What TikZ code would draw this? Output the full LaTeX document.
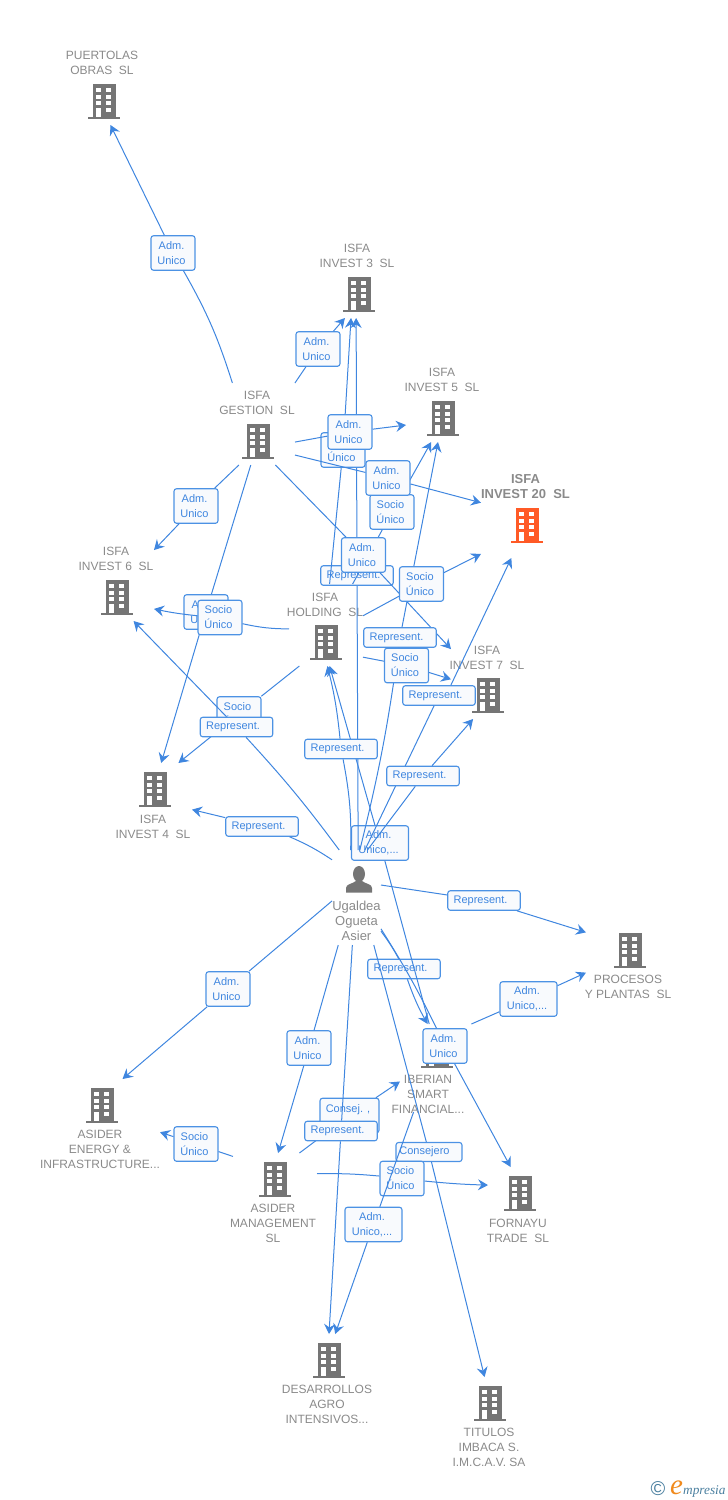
\documentclass[tikz,border=0pt]{standalone}
\usepackage{fontspec}
\setmainfont{Liberation Sans}
\newfontfamily\logofont{Liberation Serif}
\usetikzlibrary{arrows.meta}
\definecolor{linkblue}{HTML}{3F86DF}
\definecolor{edgeblue}{HTML}{4C92E4}
\definecolor{boxfill}{HTML}{F8FAFD}
\definecolor{bldggray}{HTML}{757575}
\definecolor{bldgorange}{HTML}{FF5A26}
\definecolor{namegray}{HTML}{8A8A8A}
\definecolor{logoblue}{HTML}{4A7F9F}
\definecolor{logoorange}{HTML}{F08A1D}
\tikzset{
  bldg/.style 2 args={shape=rectangle, inner sep=0pt, outer sep=0pt, minimum width=74pt,
    path picture={
      \begin{scope}[shift={(path picture bounding box.center)}]
        \fill[#2] (-11.5,#1-17) rectangle (11.5,#1+15.5);
        \fill[#2] (-16,#1+15.5) rectangle (16,#1+17.5);
        \foreach \wy in {-13,-6.5,0} {
          \fill[white] (-8,#1+\wy) rectangle (-3.5,#1+\wy+4);
          \fill[white] (2,#1+\wy) rectangle (7,#1+\wy+4);
        }
        \fill[white] (-8,#1+6.5) rectangle (-3.5,#1+15.5);
        \fill[white] (2,#1+6.5) rectangle (7,#1+11);
      \end{scope}
    }},
  topbldg/.style={bldg={17}{bldggray}, minimum height=82pt},
  botbldg/.style={bldg={-18}{bldggray}, minimum height=88pt},
  hotbldg/.style={bldg={12.5}{bldgorange}, minimum width=92pt, minimum height=91pt},
  persona/.style={shape=rectangle, inner sep=0pt, outer sep=0pt, minimum width=49pt, minimum height=95pt,
    path picture={
      \begin{scope}[shift={(path picture bounding box.center)}]
        \fill[bldggray] (2.5,-23.5) ellipse (6 and 8);
        \fill[bldggray] (-10.5,-5) -- (-10.5,-9.5) .. controls (-10.5,-13.5) and (-4.5,-13.5) .. (-0.5,-16.5)
          -- (5.5,-16.5) .. controls (9.5,-13.5) and (15.5,-13.5) .. (15.5,-9.5) -- (15.5,-5) -- cycle;
      \end{scope}
    }},
  namelbl/.style={inner sep=0pt, align=center, text=namegray, font=\fontsize{12}{15}\selectfont},
  rel/.style={shape=rectangle, rounded corners=2.5pt, draw=edgeblue, line width=1.1pt, fill=boxfill,
    inner sep=0pt, align=center, text=linkblue, font=\fontsize{11}{15}\selectfont,
    minimum width=44pt, minimum height=34.5pt, execute at begin node={\hspace*{-3pt}}},
  relwide/.style={rel, minimum width=57pt},
  relrep/.style={rel, minimum width=72.5pt, minimum height=19.5pt, execute at begin node={\hspace*{-4pt}}},
  link/.style={draw=linkblue, line width=1pt},
  linkto/.style={link, -{Stealth[length=10pt, width=11pt, inset=3.5pt]}},
}
\begin{document}
\begin{tikzpicture}[x=1pt, y=-1pt]
  \useasboundingbox (0,0) rectangle (728,1500);
  \node[topbldg] (puertolas) at (104,84) {};
  \node[namelbl] (puertolasname) at (102,62.5) {PUERTOLAS\\OBRAS~~SL};
  \node[topbldg] (invest3) at (359,277) {};
  \node[namelbl] (invest3name) at (357,255.5) {ISFA\\INVEST 3~~SL};
  \node[topbldg] (invest5) at (443,401) {};
  \node[namelbl] (invest5name) at (442,379.5) {ISFA\\INVEST 5~~SL};
  \node[topbldg] (gestion) at (258,424) {};
  \node[namelbl] (gestionname) at (257,402.5) {ISFA\\GESTION~~SL};
  \node[hotbldg] (invest20) at (527,512.5) {};
  \node[namelbl, font=\fontsize{13}{15}\selectfont\bfseries] (invest20name) at (525.5,486.5) {ISFA\\INVEST 20~~SL};
  \node[topbldg] (invest6) at (117,580) {};
  \node[namelbl] (invest6name) at (116,558.5) {ISFA\\INVEST 6~~SL};
  \node[topbldg] (holding) at (326,625) {};
  \node[namelbl] (holdingname) at (325,604.5) {ISFA\\HOLDING~~SL};
  \node[topbldg] (invest7) at (488,678) {};
  \node[namelbl] (invest7name) at (487,657.5) {ISFA\\INVEST 7~~SL};
  \node[botbldg] (invest4) at (155,807) {};
  \node[namelbl] (invest4name) at (153,826.5) {ISFA\\INVEST 4~~SL};
  \node[persona] (ugaldea) at (356.5,897.5) {};
  \node[namelbl, font=\fontsize{13}{15}\selectfont] (ugaldeaname) at (356.5,920.5) {Ugaldea\\Ogueta\\Asier};
  \node[botbldg, minimum width=88pt] (procesos) at (630,968) {};
  \node[namelbl] (procesosname) at (628,986.5) {PROCESOS\\Y PLANTAS~~SL};
  \node[botbldg] (iberian) at (437,1068) {};
  \node[namelbl] (iberianname) at (428,1094) {IBERIAN\\SMART\\FINANCIAL...};
  \node[botbldg, minimum width=116pt] (energy) at (102,1123) {};
  \node[namelbl] (energyname) at (100,1149) {ASIDER\\ENERGY \&\\INFRASTRUCTURE...};
  \node[botbldg, minimum width=84pt] (management) at (275,1197) {};
  \node[namelbl] (managementname) at (273,1223) {ASIDER\\MANAGEMENT\\SL};
  \node[botbldg, minimum width=64pt] (fornayu) at (520,1211) {};
  \node[namelbl] (fornayuname) at (518,1230.5) {FORNAYU\\TRADE~~SL};
  \node[botbldg] (desarrollos) at (329,1378) {};
  \node[namelbl] (desarrollosname) at (327,1404) {DESARROLLOS\\AGRO\\INTENSIVOS...};
  \node[botbldg] (titulos) at (490,1421) {};
  \node[namelbl] (titulosname) at (489,1447) {TITULOS\\IMBACA S.\\I.M.C.A.V. SA};

  \node[relrep] (reprIberian) at (404,969) {Represent.};
  \draw[link] (ugaldea.-54.6) to[bend left=4] (reprIberian);
  \draw[linkto] (reprIberian) to[bend right=5] (iberian.102.8);

  \node[relwide] (admHolding) at (380,843) {Adm.\\Unico,...};
  \draw[link] (iberian.100.3) -- (admHolding);
  \draw[linkto] (admHolding) -- (holding.-85);

  \node[relrep] (reprInvestA) at (357,575.5) {Represent.};
  \draw[link] (ugaldea.88) -- (reprInvestA);
  \draw[linkto] (reprInvestA) -- (invest3.-94.3);

  \node[rel] (socioInvestA) at (343,450) {Socio\\Único};
  \draw[link] (holding.85.6) -- (socioInvestA);
  \draw[linkto] (socioInvestA) -- (invest3.-101.3);

  \node[rel] (socioFiveA) at (392,512) {Socio\\Único};
  \draw[link] (holding.57) -- (socioFiveA);
  \draw[linkto] (socioFiveA) -- (invest5.-106.3);

  \node[rel] (admFive) at (350,432) {Adm.\\Unico};
  \draw[link] (gestion.-26) -- (admFive);
  \draw[linkto] (admFive) -- (invest5.-147);

  \node[rel] (admTwenty) at (388,478) {Adm.\\Unico};
  \draw[link] (gestion.-40.9) -- (admTwenty);
  \draw[linkto] (admTwenty) -- (invest20.168);

  \node[rel] (admSeven) at (363.5,555) {Adm.\\Unico};
  \draw[link] (gestion.-67) -- (admSeven);
  \draw[linkto] (admSeven) -- (invest7.142);

  \node[relrep] (reprFive) at (400,637.5) {Represent.};
  \draw[link] (ugaldea.86) to[bend right=3] (reprFive);
  \draw[linkto] (reprFive) -- (invest5.-97);

  \node[rel] (socioTwenty) at (421.5,584) {Socio\\Único};
  \draw[link] (holding.14) -- (socioTwenty);
  \draw[linkto] (socioTwenty) -- (invest20.-138);

  \node[rel] (socioSeven) at (406.5,665.5) {Socio\\Único};
  \draw[link] (holding.-41) -- (socioSeven);
  \draw[linkto] (socioSeven) -- (invest7.-178);

  \node[relrep] (reprTwenty) at (439,695.5) {Represent.};
  \draw[link] (ugaldea.80) -- (reprTwenty);
  \draw[linkto] (reprTwenty.41.6) -- (invest20.-109.4);

  \node[relrep] (reprSeven) at (423,776) {Represent.};
  \draw[link] (ugaldea.77.5) -- (reprSeven);
  \draw[linkto] (reprSeven) -- (invest7.-110.6);

  \node[relrep] (reprHolding) at (341,749) {Represent.};
  \draw[link] (ugaldea.97) to[bend right=6] (reprHolding);
  \draw[linkto] (reprHolding) to[bend right=4] (holding.-88);

  \node[rel] (admThree) at (318,349) {Adm.\\Unico};
  \draw[link] (gestion.48.8) -- (admThree);
  \draw[linkto] (admThree) -- (invest3.-109.3);

  \node[rel] (admPuertolas) at (173,253) {Adm.\\Unico};
  \draw[link] (gestion.122) to[bend right=6] (admPuertolas);
  \draw[linkto] (admPuertolas) -- (puertolas.-81.5);

  \node[rel] (admSix) at (196,506) {Adm.\\Unico};
  \draw[link] (gestion.-115.4) -- (admSix);
  \draw[linkto] (admSix) -- (invest6.39.6);

  \node[rel] (admFour) at (206,612) {Adm.\\Unico};
  \draw[link] (gestion.-100) -- (admFour);
  \draw[linkto] (admFour) -- (invest4.82.2);

  \node[rel] (socioSix) at (220,617.5) {Socio\\Único};
  \draw[link] (holding.186) to[bend left=6] (socioSix);
  \draw[linkto] (socioSix) to[bend left=3] (invest6.-38.7);

  \node[rel] (socioFour) at (239,714) {Socio\\Único};
  \draw[link] (holding.-123) -- (socioFour);
  \draw[linkto] (socioFour) -- (invest4.62.4);

  \node[relrep] (reprSix) at (236.5,727) {Represent.};
  \draw[link] (ugaldea.110) to[bend right=3] (reprSix);
  \draw[linkto] (reprSix) -- (invest6.-68.7);

  \node[relrep] (reprFour) at (262,826.5) {Represent.};
  \draw[link] (ugaldea.123) to[bend right=5] (reprFour);
  \draw[linkto] (reprFour) -- (invest4.-4.6);

  \node[relrep] (reprProcesos) at (484,900.5) {Represent.};
  \draw[link] (ugaldea.27) -- (reprProcesos);
  \draw[linkto] (reprProcesos) -- (procesos.141.5);

  \node[rel] (admEnergy) at (228,989) {Adm.\\Unico};
  \draw[link] (ugaldea.188) -- (admEnergy);
  \draw[linkto] (admEnergy) -- (energy.65.6);

  \node[rel] (admManagement) at (309,1048) {Adm.\\Unico};
  \draw[link] (ugaldea.-111.3) -- (admManagement);
  \draw[linkto] (admManagement) -- (management.86.1);

  \node[rel, minimum width=59pt] (consejIberian) at (349.5,1115.5) {Consej. ,\\~};
  \draw[link] (management.61.4) -- (consejIberian);
  \draw[linkto] (consejIberian) -- (iberian.-160.6);

  \node[relrep] (reprDesarrollos) at (341,1131) {Represent.};
  \draw[link] (ugaldea.-95.4) -- (reprDesarrollos);
  \draw[linkto] (reprDesarrollos) -- (desarrollos.90);

  \node[rel] (socioEnergy) at (196,1144) {Socio\\Único};
  \draw[link] (management.136.4) -- (socioEnergy);
  \draw[linkto] (socioEnergy) -- (energy.-9.8);

  \node[relrep, minimum width=66pt, minimum height=19pt, execute at begin node={\hspace*{-2pt}}] (consejeroTitulos) at (429,1152) {Consejero};
  \draw[link] (ugaldea.-70.8) -- (consejeroTitulos);
  \draw[linkto] (consejeroTitulos) -- (titulos.97.8);

  \node[rel] (socioFornayu) at (402,1178.5) {Socio\\Único};
  \draw[link] (management.29.7) to[bend left=3] (socioFornayu);
  \draw[linkto] (socioFornayu) to[bend right=2] (fornayu.141);

  \node[relwide] (admDesarrollos) at (373.5,1224.5) {Adm.\\Unico,...};
  \draw[link] (iberian.-118.6) -- (admDesarrollos);
  \draw[linkto] (admDesarrollos) -- (desarrollos.82.2);

  \node[relwide] (admProcesos) at (528.5,999) {Adm.\\Unico,...};
  \draw[link] (iberian.52.5) -- (admProcesos);
  \draw[linkto] (admProcesos) -- (procesos.186.5);

  \node[rel] (admFornayu) at (445,1046) {Adm.\\Unico};
  \draw[link] (ugaldea.-52) to[bend left=3] (admFornayu);
  \draw[linkto] (admFornayu) -- (fornayu.102.8);

  \node[inner sep=0pt, text=logoblue, font=\fontsize{20}{20}\selectfont] (logomark) at (658,1489) {©};
  \node[inner sep=0pt, anchor=base west, text=logoorange, font=\logofont\itshape\fontsize{29}{29}\selectfont] (logoe) at (670,1494) {e};
  \node[inner sep=0pt, anchor=base west, text=logoblue, font=\logofont\itshape\fontsize{13.3}{14}\selectfont] (logoname) at (683,1494) {mpresia};
\end{tikzpicture}
\end{document}
